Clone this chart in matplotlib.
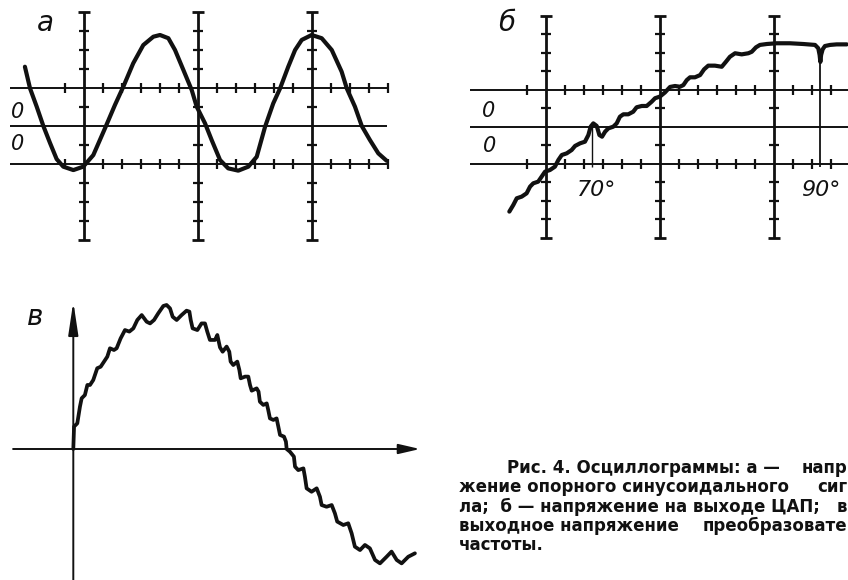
import matplotlib.pyplot as plt

# а — опорное синусоидальное напряжение (в делениях сетки)
sine_x = [-3.11, -2.84, -2.49, -2.14, -1.79, -1.44, -1.09, -0.56, -0.04, 0.49,
          1.11, 1.63, 2.07, 2.59, 3.12, 3.65, 4.00, 4.44, 4.79, 5.23,
          5.67, 5.93, 6.37, 6.72, 7.16, 7.59, 8.12, 8.65, 9.09, 9.53,
          9.96, 10.32, 10.75, 11.11, 11.46, 11.98, 12.51, 13.04, 13.56, 13.83,
          14.26, 14.62, 15.05, 15.49, 15.93]
sine_y = [3.12, 1.98, 1.02, 0.00, -0.89, -1.74, -2.14, -2.32, -2.14, -1.53,
          -0.11, 1.11, 2.07, 3.30, 4.26, 4.70, 4.79, 4.62, 4.00, 2.95,
          1.89, 1.02, 0.14, -0.74, -1.79, -2.23, -2.35, -2.14, -1.62, -0.04,
          1.19, 1.98, 3.12, 4.00, 4.53, 4.79, 4.62, 4.00, 2.86, 1.98,
          1.02, 0.00, -0.74, -1.44, -1.83]

# б — напряжение на выходе ЦАП
dac_x = [-1.93, -1.72, -1.54, -1.28, -1.02, -0.84, -0.67, -0.41, -0.23, -0.05,
         0.21, 0.47, 0.65, 0.83, 1.09, 1.35, 1.53, 1.79, 2.05, 2.23,
         2.35, 2.49, 2.67, 2.81, 2.95, 3.11, 3.28, 3.54, 3.72, 3.89,
         4.07, 4.33, 4.59, 4.77, 5.04, 5.30, 5.56, 5.74, 6.00, 6.26,
         6.53, 6.79, 7.05, 7.23, 7.41, 7.58, 7.84, 8.11, 8.32, 8.54,
         8.89, 9.25, 9.47, 9.68, 9.95, 10.30, 10.65, 10.83, 11.05, 11.26,
         11.62, 12.14, 12.84, 13.54, 14.16, 14.33, 14.40, 14.44, 14.48, 14.56,
         14.68, 14.95, 15.30, 15.83]
dac_y = [-4.59, -4.23, -3.87, -3.78, -3.60, -3.24, -3.06, -2.97, -2.70, -2.43,
         -2.34, -2.16, -1.80, -1.53, -1.44, -1.26, -1.04, -0.90, -0.81, -0.45,
         0.00, 0.18, 0.04, -0.45, -0.54, -0.27, -0.09, 0.00, 0.18, 0.54,
         0.67, 0.67, 0.81, 1.05, 1.12, 1.12, 1.35, 1.54, 1.63, 1.85,
         2.15, 2.20, 2.16, 2.25, 2.52, 2.67, 2.67, 2.79, 3.10, 3.30,
         3.30, 3.24, 3.51, 3.78, 3.97, 3.91, 3.97, 4.05, 4.29, 4.42,
         4.47, 4.51, 4.51, 4.47, 4.42, 4.24, 3.88, 3.50, 3.88, 4.18,
         4.36, 4.42, 4.45, 4.45]
mark_70 = 2.44   # отметка 70°
mark_90 = 14.44  # отметка 90°

# в — выходное напряжение преобразователя
out_x = [0.00, 0.04, 0.21, 0.35, 0.44, 0.61, 0.74, 0.88, 1.05, 1.26,
         1.44, 1.79, 1.93, 2.14, 2.28, 2.49, 2.72, 2.95, 3.16, 3.37,
         3.60, 3.86, 4.04, 4.25, 4.47, 4.74, 4.91, 5.09, 5.23, 5.44,
         5.70, 5.96, 6.11, 6.18, 6.28, 6.53, 6.75, 6.93, 7.05, 7.19,
         7.46, 7.58, 7.72, 7.86, 8.07, 8.21, 8.28, 8.42, 8.63, 8.74,
         8.81, 9.04, 9.21, 9.30, 9.39, 9.65, 9.75, 9.82, 10.00, 10.18,
         10.26, 10.35, 10.53, 10.70, 10.79, 10.88, 11.09, 11.19, 11.23, 11.40,
         11.61, 11.67, 11.84, 12.11, 12.19, 12.28, 12.54, 12.81, 12.98, 13.07,
         13.33, 13.60, 13.77, 13.89, 14.21, 14.47, 14.65, 14.82, 15.09, 15.35,
         15.61, 15.88, 16.14, 16.49, 16.75, 17.02, 17.28, 17.63, 17.98]
out_y = [0.00, 1.18, 1.35, 2.23, 2.67, 2.84, 3.37, 3.37, 3.63, 4.25,
         4.33, 4.86, 5.30, 5.21, 5.30, 5.82, 6.26, 6.18, 6.35, 6.79,
         7.05, 6.70, 6.61, 6.79, 7.14, 7.53, 7.58, 7.40, 6.96, 6.79,
         7.05, 7.28, 7.23, 6.79, 6.35, 6.26, 6.61, 6.61, 6.18, 5.74,
         5.74, 6.00, 5.35, 5.12, 5.39, 5.12, 4.60, 4.42, 4.60, 4.16,
         3.72, 3.81, 3.81, 3.37, 3.07, 3.19, 3.02, 2.49, 2.32, 2.40,
         2.05, 1.61, 1.53, 1.61, 1.18, 0.74, 0.65, 0.39, 0.00, -0.14,
         -0.40, -0.93, -1.11, -1.02, -1.46, -2.07, -2.25, -2.07, -2.51, -2.95,
         -3.04, -2.95, -3.39, -3.82, -4.00, -3.91, -4.44, -5.14, -5.32, -5.05,
         -5.23, -5.84, -6.02, -5.67, -5.40, -5.84, -6.02, -5.67, -5.49]

# сетка экрана
grid_cols = [0, 6, 12]
grid_rows = [2, 0, -2]
tick_cols = [v for v in range(-1, 17) if v not in grid_cols]
tick_rows = [-5, -4, -3, -1, 1, 3, 4, 5]

# подпись: левые части строк и хвосты, прижатые к правому краю
caption_left = [
    (507, 473, "Рис. 4. Осциллограммы: а —"),
    (459, 492.5, "жение опорного синусоидального"),
    (459, 512, "ла;  б — напряжение на выходе ЦАП;"),
    (459, 531, "выходное напряжение"),
    (459, 550, "частоты."),
]
caption_right = [
    (473, "напр"),
    (492.5, "сиг"),
    (512, "в"),
    (531, "преобразовате"),
]

W, H = 848, 580
INK = '#111111'
fig = plt.figure(figsize=(W / 100, H / 100), dpi=100)


def panel(left, top, right, bottom, x0, y0, sx, sy):
    """Оси в пикселях листа, единицы — деления сетки."""
    ax = fig.add_axes([left / W, 1 - bottom / H, (right - left) / W, (bottom - top) / H])
    ax.set_xlim((left - x0) / sx, (right - x0) / sx)
    ax.set_ylim((y0 - bottom) / sy, (y0 - top) / sy)
    ax.axis('off')
    return ax


def scope_grid(ax, x_from, x_to):
    ax.hlines(grid_rows, x_from, x_to, color=INK, lw=1.4)
    ax.vlines(grid_cols, -6, 6, color=INK, lw=2.0)
    for c in grid_cols:
        ax.hlines(tick_rows, c - 0.25, c + 0.25, color=INK, lw=1.6)
        ax.hlines([-6, 6], c - 0.32, c + 0.32, color=INK, lw=2.0)
    for r in (2, -2):
        ax.vlines(tick_cols, r - 0.28, r + 0.28, color=INK, lw=1.6)


zero_font = dict(fontsize=15, style='italic', color=INK, ha='center', va='center')
letter_font = dict(fontsize=20, style='italic', color=INK, ha='center', va='center')
curve_style = dict(color=INK, solid_joinstyle='round', solid_capstyle='round')

# а
ax_a = panel(0, 0, 400, 250, 84, 126, 19, 19)
scope_grid(ax_a, -3.89, 15.95)
ax_a.plot(sine_x, sine_y, lw=3.0, **curve_style)
ax_a.text(-2.05, 5.4, 'а', **letter_font)
ax_a.text(-3.47, 0.72, '0', **zero_font)
ax_a.text(-3.47, -0.95, '0', **zero_font)

# б
ax_b = panel(440, 0, 848, 250, 546, 126.7, 19, 18.5)
scope_grid(ax_b, -4.0, 17)
ax_b.plot(dac_x, dac_y, lw=3.0, **curve_style)
ax_b.vlines(mark_70, -2.2, 0.1, color=INK, lw=1.0)
ax_b.vlines(mark_90, -2.2, 3.5, color=INK, lw=1.3)
ax_b.text(-2.05, 5.6, 'б', **letter_font)
ax_b.text(-3.0, 0.86, '0', **zero_font)
ax_b.text(-2.95, -1.04, '0', **zero_font)
ax_b.text(2.68, -3.42, '70°', fontsize=16, style='italic', color=INK, ha='center', va='center')
ax_b.text(14.47, -3.42, '90°', fontsize=16, style='italic', color=INK, ha='center', va='center')

# в
ax_c = panel(0, 260, 440, 580, 73.3, 449, 19, 19)
ax_c.annotate('', xy=(18.25, 0), xytext=(-3.17, 0),
              arrowprops=dict(arrowstyle='-|>,head_length=1.3,head_width=0.3',
                              lw=1.4, color=INK, shrinkA=0, shrinkB=0))
ax_c.annotate('', xy=(0, 7.75), xytext=(0, -7.5),
              arrowprops=dict(arrowstyle='-|>,head_length=2.0,head_width=0.3',
                              lw=1.4, color=INK, shrinkA=0, shrinkB=0))
ax_c.plot(out_x, out_y, lw=2.7, **curve_style)
ax_c.text(-2.02, 6.96, 'в', **letter_font)

# подпись к рисунку
cap_font = dict(fontsize=12, fontweight='bold', color=INK, va='baseline')
for px, py, s in caption_left:
    fig.text(px / W, 1 - py / H, s, ha='left', **cap_font)
for py, s in caption_right:
    fig.text(1 - 1 / W, 1 - py / H, s, ha='right', **cap_font)

fig.savefig('out.png', dpi=100, facecolor='white')
